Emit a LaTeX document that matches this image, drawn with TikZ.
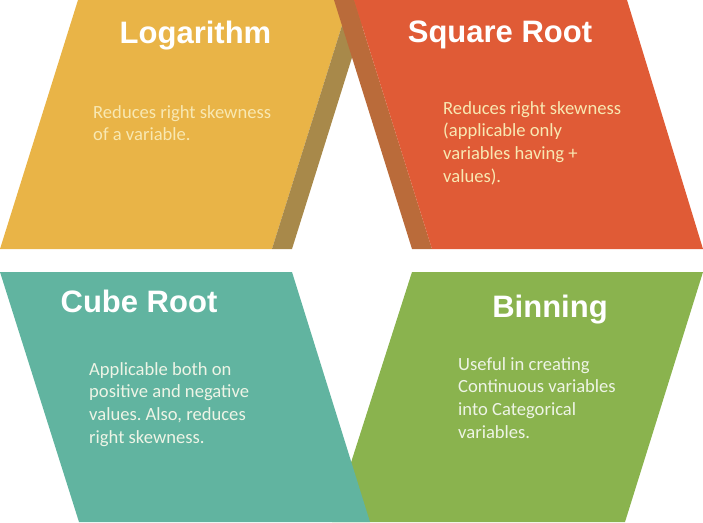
\documentclass[tikz,border=0pt]{standalone}
\usepackage{fontspec}
\newfontfamily\headfont{Liberation Sans}
\newfontfamily\copyfont{Carlito}
\frenchspacing
\definecolor{logfill}{HTML}{E9B447}
\definecolor{logside}{HTML}{A8894A}
\definecolor{sqfill}{HTML}{E05B36}
\definecolor{sqside}{HTML}{BA6B3A}
\definecolor{cubefill}{HTML}{61B4A0}
\definecolor{binfill}{HTML}{8AB34E}
\definecolor{warmtext}{HTML}{F8E8B2}
\definecolor{pale}{HTML}{EEF4E6}
\begin{document}
\begin{tikzpicture}[x=1pt,y=-1pt,
  headline/.style={anchor=base,inner sep=0pt,text=white,
    font=\headfont\bfseries\fontsize{31}{36}\selectfont},
  copy/.style={anchor=north west,inner sep=0pt,align=left,
    font=\copyfont\fontsize{18.6}{22.6}\selectfont}]
\useasboundingbox (0,0) rectangle (703,522);
% bottom row: green first, teal overlaps it
\fill[binfill] (412,272) -- (703,272) -- (625,522) -- (332,522) -- cycle;
\fill[cubefill] (0,272) -- (292,272) -- (370,522) -- (79,522) -- cycle;
% top row: yellow panel with its side, then the red panel with its side
\fill[logfill] (78,0) -- (350,0) -- (272,249) -- (0,249) -- cycle;
\fill[logside] (350,0) -- (370,0) -- (292,249) -- (272,249) -- cycle;
\fill[sqside] (334,0) -- (354,0) -- (432,249) -- (412,249) -- cycle;
\fill[sqfill] (354,0) -- (627,0) -- (703,249) -- (432,249) -- cycle;
% headings
\node[headline] (logt) at (195.5,43) {Logarithm};
\node[headline] (sqt) at (500,42) {Square Root};
\node[headline] (cubet) at (139,312) {Cube Root};
\node[headline] (bint) at (550,317) {Binning};
% descriptions (first baseline 15pt below the top edge)
\node[copy,text=warmtext] (logd) at (93,103)
  {\rule{0pt}{15pt}Reduces right skewness\\of a variable.};
\node[copy,text=warmtext] (sqd) at (443,99)
  {\rule{0pt}{15pt}Reduces right skewness\\(applicable only\\variables having +\\values).};
\node[copy,text=pale] (cubed) at (89,360)
  {\rule{0pt}{15pt}Applicable both on\\positive and negative\\values. Also, reduces\\right skewness.};
\node[copy,text=pale] (bind) at (458,355)
  {\rule{0pt}{15pt}Useful in creating\\Continuous variables\\into Categorical\\variables.};
\end{tikzpicture}
\end{document}
